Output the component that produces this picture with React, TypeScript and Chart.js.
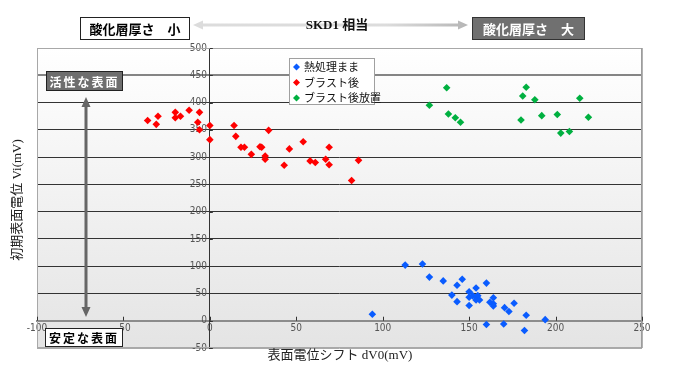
import React, { useEffect, useRef } from "react";
import { Chart, registerables } from "chart.js";

Chart.register(...registerables);

const seriesNames = ["熱処理まま", "ブラスト後", "ブラスト後放置"];
const seriesColors = ["#0a5cff", "#ff0000", "#00b040"];

const asHeatX = [94, 113, 123, 127, 135, 146, 143, 140, 143, 150, 154, 160, 150, 152, 154, 155, 154, 156, 150, 164, 162, 164, 164, 170.5, 173, 176, 183, 194, 160, 170, 182];
const asHeatY = [12, 102, 104, 80, 73, 76, 65, 47, 35, 53, 60, 69, 43, 46, 43, 46, 38, 38, 28, 42, 34, 31, 27, 24, 17, 32, 10, 2, -7, -6, -18];

const blastX = [-36, -30, -31, -20, -20, -17, -12, -6, -7, -6, 0, 0, 14, 15, 18, 20, 24, 29, 30, 32, 32, 34, 43, 46, 54, 58, 61, 67, 69, 69, 82, 86];
const blastY = [367, 375, 360, 382, 372, 375, 386, 382, 364, 350, 358, 332, 358, 338, 318, 318, 305, 319, 318, 302, 296, 349, 285, 315, 328, 293, 290, 296, 318, 286, 257, 294];

const leftX = [127, 137, 138, 142, 145, 180, 181, 183, 188, 192, 201, 203, 208, 214, 219];
const leftY = [395, 427, 379, 372, 364, 368, 412, 428, 405, 376, 378, 344, 347, 408, 373];

const xMin = -100, xMax = 250, xStep = 50;
const yMin = -50, yMax = 500, yStep = 50;

const headerLeft = "酸化層厚さ　小";
const headerRight = "酸化層厚さ　大";
const headerMid = "SKD1 相当";
const activeLabel = "活性な表面";
const stableLabel = "安定な表面";
const xTitle = "表面電位シフト dV0(mV)";
const yTitle = "初期表面電位 Vi(mV)";

function pts(xs: number[], ys: number[]) {
  return xs.map((x, i) => ({ x, y: ys[i] }));
}

function drawDoubleArrow(ctx: CanvasRenderingContext2D, x1: number, y1: number, x2: number, y2: number, fill: any, w: number, hl: number, hw: number) {
  const ang = Math.atan2(y2 - y1, x2 - x1);
  const len = Math.hypot(x2 - x1, y2 - y1);
  ctx.save();
  ctx.translate(x1, y1);
  ctx.rotate(ang);
  ctx.fillStyle = fill;
  ctx.beginPath();
  ctx.moveTo(0, 0);
  ctx.lineTo(hl, -hw / 2);
  ctx.lineTo(hl, -w / 2);
  ctx.lineTo(len - hl, -w / 2);
  ctx.lineTo(len - hl, -hw / 2);
  ctx.lineTo(len, 0);
  ctx.lineTo(len - hl, hw / 2);
  ctx.lineTo(len - hl, w / 2);
  ctx.lineTo(hl, w / 2);
  ctx.lineTo(hl, hw / 2);
  ctx.closePath();
  ctx.fill();
  ctx.restore();
}

function drawBox(ctx: CanvasRenderingContext2D, x: number, y: number, w: number, h: number, fill: string, stroke: string, text: string, color: string, font: string, spacing = "0px") {
  ctx.save();
  ctx.fillStyle = fill;
  ctx.fillRect(x, y, w, h);
  ctx.strokeStyle = stroke;
  ctx.lineWidth = 1;
  ctx.strokeRect(x + 0.5, y + 0.5, w - 1, h - 1);
  ctx.fillStyle = color;
  ctx.font = font;
  (ctx as any).letterSpacing = spacing;
  ctx.textAlign = "center";
  ctx.textBaseline = "middle";
  ctx.fillText(text, x + w / 2, y + h / 2 + 1);
  ctx.restore();
}

const decorPlugin = {
  id: "decor",
  beforeDraw(chart: any) {
    const { ctx, chartArea: a } = chart;
    ctx.save();
    const g = ctx.createLinearGradient(0, a.top, 0, a.bottom);
    g.addColorStop(0, "#ffffff");
    g.addColorStop(0.15, "#fbfbfb");
    g.addColorStop(1, "#e4e4e4");
    ctx.fillStyle = g;
    ctx.fillRect(a.left, a.top, a.right - a.left, a.bottom - a.top);
    ctx.restore();
  },
  afterDraw(chart: any) {
    const { ctx, chartArea: a } = chart;
    const xs = chart.scales.x;
    const ys = chart.scales.y;
    ctx.save();
    ctx.strokeStyle = "#a8a8a8";
    ctx.lineWidth = 1;
    ctx.strokeRect(a.left + 0.5, a.top + 0.5, a.right - a.left - 1, a.bottom - a.top - 1);
    ctx.strokeStyle = "#999";
    ctx.lineWidth = 1.5;
    ctx.beginPath();
    ctx.moveTo(a.right, a.top);
    ctx.lineTo(a.right, a.bottom);
    ctx.stroke();
    const y0 = ys.getPixelForValue(0);
    const x0 = xs.getPixelForValue(0);
    ctx.strokeStyle = "#333";
    ctx.lineWidth = 1;
    ctx.beginPath();
    for (let v = xMin; v <= xMax; v += xStep) {
      const px = Math.round(xs.getPixelForValue(v)) + 0.5;
      ctx.moveTo(px, y0);
      ctx.lineTo(px, y0 - 4);
    }
    for (let v = yMin; v <= yMax; v += yStep) {
      const py = Math.round(ys.getPixelForValue(v)) + 0.5;
      ctx.moveTo(x0, py);
      ctx.lineTo(x0 + 3, py);
    }
    ctx.stroke();
    ctx.restore();

    drawBox(ctx, 80, 17, 110, 23, "#ffffff", "#222", headerLeft, "#000", "bold 13px 'Noto Sans CJK JP'");
    drawBox(ctx, 472, 17, 113, 23, "#707070", "#333", headerRight, "#fff", "bold 13px 'Noto Sans CJK JP'");
    const hg = ctx.createLinearGradient(193, 0, 468, 0);
    hg.addColorStop(0, "#dcdcdc");
    hg.addColorStop(1, "#5c5c5c");
    drawDoubleArrow(ctx, 193, 25, 468, 25, hg, 3, 10, 9);
    ctx.save();
    ctx.fillStyle = "#111";
    ctx.font = "bold 13px 'Liberation Serif', 'Noto Sans CJK JP'";
    ctx.textAlign = "center";
    ctx.textBaseline = "middle";
    ctx.fillText(headerMid, 337, 26);
    ctx.restore();

    const vg = ctx.createLinearGradient(0, 97, 0, 317);
    vg.addColorStop(0, "#666666");
    vg.addColorStop(1, "#e2e2e2");
    drawDoubleArrow(ctx, 86, 97, 86, 317, vg, 3, 10, 9);
    drawBox(ctx, 46, 71, 77, 20, "#6e6e6e", "#222", activeLabel, "#fff", "bold 12px 'Noto Sans CJK JP'", "2px");
    drawBox(ctx, 45, 328, 78, 19, "#ffffff", "#222", stableLabel, "#000", "bold 12px 'Noto Sans CJK JP'", "2px");

    ctx.save();
    ctx.fillStyle = "#fff";
    ctx.fillRect(289, 58, 86, 47);
    ctx.strokeStyle = "#a0a0a0";
    ctx.strokeRect(289.5, 58.5, 85, 46);
    ctx.font = "11px 'Noto Sans CJK JP'";
    ctx.textBaseline = "middle";
    ctx.textAlign = "left";
    chart.data.datasets.forEach((ds: any, i: number) => {
      const cy = 67 + i * 15.5;
      ctx.fillStyle = ds.backgroundColor;
      ctx.beginPath();
      ctx.moveTo(296.5, cy - 3.5);
      ctx.lineTo(300, cy);
      ctx.lineTo(296.5, cy + 3.5);
      ctx.lineTo(293, cy);
      ctx.closePath();
      ctx.fill();
      ctx.fillStyle = "#111";
      ctx.fillText(ds.label, 304, cy);
    });
    ctx.restore();

    ctx.save();
    ctx.fillStyle = "#222";
    ctx.font = "13px 'Liberation Serif', 'Noto Sans CJK JP'";
    ctx.textAlign = "center";
    ctx.textBaseline = "middle";
    ctx.fillText(xTitle, 340, 356);
    ctx.translate(18, 200);
    ctx.rotate(-Math.PI / 2);
    ctx.fillText(yTitle, 0, 0);
    ctx.restore();
  },
};

export default function App() {
  const ref = useRef<HTMLCanvasElement | null>(null);
  useEffect(() => {
    if (!ref.current) return;
    const ds = [pts(asHeatX, asHeatY), pts(blastX, blastY), pts(leftX, leftY)];
    const chart = new Chart(ref.current, {
      type: "scatter",
      data: {
        datasets: ds.map((d, i) => ({
          label: seriesNames[i],
          data: d,
          backgroundColor: seriesColors[i],
          borderColor: seriesColors[i],
          pointStyle: "rectRot",
          pointRadius: 3.8,
          pointBorderWidth: 0,
        })),
      },
      options: {
        animation: false,
        responsive: false,
        maintainAspectRatio: false,
        layout: { padding: { left: 37, top: 48, right: 34, bottom: 35 } },
        plugins: { legend: { display: false }, tooltip: { enabled: false } },
        scales: {
          x: {
            type: "linear",
            min: xMin,
            max: xMax,
            position: { y: 0 } as any,
            ticks: { stepSize: xStep, color: "#555", font: { size: 10, family: "'DejaVu Sans Condensed', 'Liberation Sans'" }, padding: 2, maxRotation: 0 },
            grid: { display: true, drawOnChartArea: false, drawTicks: false },
            border: { display: true, color: "#8c8c8c", width: 2 },
          },
          y: {
            type: "linear",
            min: yMin,
            max: yMax,
            position: { x: 0 } as any,
            ticks: {
              stepSize: yStep,
              color: "#555",
              font: { size: 10, family: "'DejaVu Sans Condensed', 'Liberation Sans'" },
              padding: 3,
              callback: (v: any) => String(v) + " ",
            },
            grid: {
              drawTicks: false,
              color: (c: any) => {
                const v = c.tick ? c.tick.value : null;
                if (v === 0) return "rgba(0,0,0,0)";
                if (v === 450) return "#858585";
                if (v === 500 || v === -50) return "#aaaaaa";
                return "#333333";
              },
              lineWidth: (c: any) => (c.tick && c.tick.value === 450 ? 2 : 1),
            },
            border: { display: true, color: "#333", width: 1 },
          },
        },
      },
      plugins: [decorPlugin],
    });
    return () => chart.destroy();
  }, []);
  return (
    <div style={{ position: "fixed", left: 0, top: 0, width: 676, height: 383, background: "#fff" }}>
      <canvas ref={ref} width={676} height={383} style={{ width: 676, height: 383 }} />
    </div>
  );
}
